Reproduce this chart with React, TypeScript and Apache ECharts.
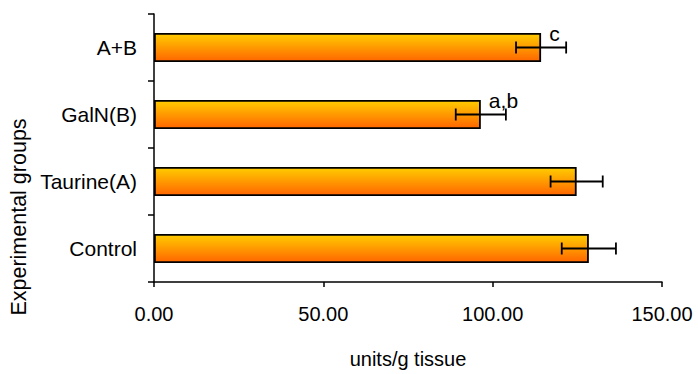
import React, { useEffect, useRef } from 'react';
import * as echarts from 'echarts';

const categories = ['Control', 'Taurine(A)', 'GalN(B)', 'A+B'];
const values = [128.4, 124.8, 96.5, 114.3];
const errors = [8.0, 7.7, 7.4, 7.4];
const significance = ['', '', 'a,b', 'c'];
const xMin = 0;
const xMax = 150;
const xStep = 50;
const xTitle = 'units/g tissue';
const yTitle = 'Experimental groups';

const FONT = '"Liberation Sans", Arial, Helvetica, sans-serif';

export default function App() {
  const ref = useRef<HTMLDivElement>(null);

  useEffect(() => {
    const chart = echarts.init(ref.current as HTMLDivElement, null, { renderer: 'svg' });
    const errData = categories.map((_, i) => [values[i] - errors[i], values[i] + errors[i], i]);

    chart.setOption({
      animation: false,
      grid: { left: 154, right: 36, top: 14, bottom: 84 },
      xAxis: {
        type: 'value',
        min: xMin,
        max: xMax,
        interval: xStep,
        splitLine: { show: false },
        axisLine: { show: true, lineStyle: { color: '#000', width: 1.5 } },
        axisTick: { show: true, length: 5, lineStyle: { color: '#000', width: 1.5 } },
        axisLabel: {
          color: '#000',
          fontSize: 20,
          fontFamily: FONT,
          margin: 22,
          formatter: (v: number) => v.toFixed(2),
        },
        name: xTitle,
        nameLocation: 'middle',
        nameGap: 67,
        nameTextStyle: { color: '#000', fontSize: 20, fontFamily: FONT },
      },
      yAxis: {
        type: 'category',
        data: categories,
        axisLine: { show: true, lineStyle: { color: '#000', width: 1.5 } },
        axisTick: { show: true, length: 6, lineStyle: { color: '#000', width: 1.5 } },
        axisLabel: { color: '#000', fontSize: 21, fontFamily: FONT, margin: 17 },
        splitLine: { show: false },
      },
      graphic: [
        {
          type: 'text',
          x: 19,
          y: 217,
          rotation: Math.PI / 2,
          style: {
            text: yTitle,
            fontSize: 21.5,
            fontFamily: FONT,
            fill: '#000',
            textAlign: 'center',
            textVerticalAlign: 'middle',
          },
        },
      ],
      series: [
        {
          type: 'bar',
          data: values,
          barWidth: 29,
          itemStyle: {
            color: new echarts.graphic.LinearGradient(0, 0, 0, 1, [
              { offset: 0, color: '#FFCC00' },
              { offset: 1, color: '#FF6600' },
            ]),
            borderColor: '#000',
            borderWidth: 1.8,
          },
        },
        {
          type: 'custom',
          coordinateSystem: 'cartesian2d',
          data: errData,
          encode: { x: [0, 1], y: 2 },
          z: 10,
          renderItem: (params: any, api: any) => {
            const idx = api.value(2);
            const lo = api.coord([api.value(0), idx]);
            const hi = api.coord([api.value(1), idx]);
            const cap = 6;
            const st = { stroke: '#000', lineWidth: 1.8 };
            const children: any[] = [
              { type: 'line', shape: { x1: lo[0], y1: lo[1], x2: hi[0], y2: hi[1] }, style: st },
              { type: 'line', shape: { x1: lo[0], y1: lo[1] - cap, x2: lo[0], y2: lo[1] + cap }, style: st },
              { type: 'line', shape: { x1: hi[0], y1: hi[1] - cap, x2: hi[0], y2: hi[1] + cap }, style: st },
            ];
            const label = significance[params.dataIndex];
            if (label) {
              children.push({
                type: 'text',
                x: hi[0] - 17,
                y: hi[1] - 4,
                style: {
                  text: label,
                  fontSize: 21,
                  fontFamily: FONT,
                  fill: '#000',
                  textAlign: 'left',
                  textVerticalAlign: 'bottom',
                },
              });
            }
            return { type: 'group', children };
          },
        },
      ],
    });

    return () => chart.dispose();
  }, []);

  return (
    <div
      ref={ref}
      style={{ position: 'fixed', left: 0, top: 0, width: 698, height: 374, background: '#fff' }}
    />
  );
}
